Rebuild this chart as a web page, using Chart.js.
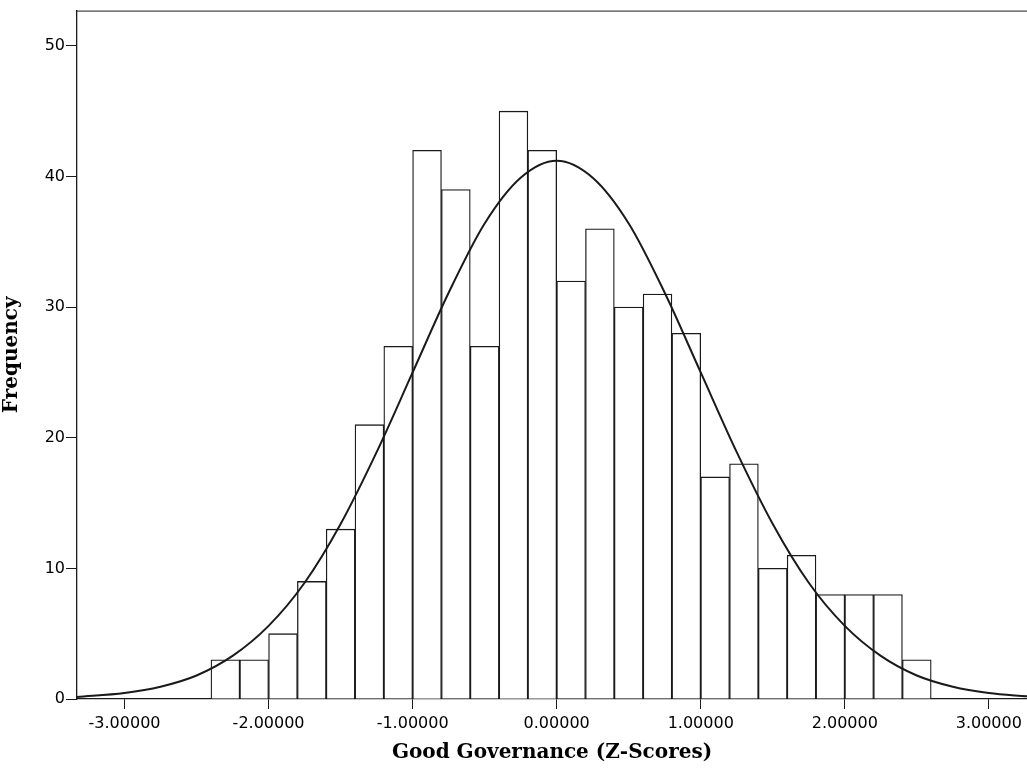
<!DOCTYPE html>
<html>
<head>
<meta charset="utf-8">
<script src="https://cdn.jsdelivr.net/npm/chart.js@4"></script>
<style>
  html, body { margin: 0; padding: 0; background: #fff; }
  #wrap { width: 1027px; height: 769px; }
</style>
</head>
<body>
<div id="wrap"><canvas id="hist"></canvas></div>
<script>
// histogram bins (bin centres, width 0.2) and counts
const binCenters = [-2.3, -2.1, -1.9, -1.7, -1.5, -1.3, -1.1, -0.9, -0.7, -0.5, -0.3, -0.1,
    0.1, 0.3, 0.5, 0.7, 0.9, 1.1, 1.3, 1.5, 1.7, 1.9, 2.1, 2.3, 2.5];
const counts = [3, 3, 5, 9, 13, 21, 27, 42, 39, 27, 45, 42,
    32, 36, 30, 31, 28, 17, 18, 10, 11, 8, 8, 8, 3];

// normal curve
const curveX = [-3.33, -3.0, -2.75, -2.5, -2.25, -2.0, -1.75, -1.5, -1.25, -1.0, -0.75, -0.5, -0.25, 0,
    0.25, 0.5, 0.75, 1.0, 1.25, 1.5, 1.75, 2.0, 2.25, 2.5, 2.75, 3.0, 3.27];
const curveY = [0.16, 0.46, 0.94, 1.8, 3.3, 5.6, 8.9, 13.4, 18.9, 25.0, 31.1, 36.4, 39.9, 41.2,
    39.9, 36.4, 31.1, 25.0, 18.9, 13.4, 8.9, 5.6, 3.3, 1.8, 0.94, 0.46, 0.2];

const xTicks = [-3, -2, -1, 0, 1, 2, 3];
const yTicks = [0, 10, 20, 30, 40, 50];

const ink = '#1a1a1a';
const tickFont = { family: 'DejaVu Sans', size: 16 };
const titleFont = { family: 'DejaVu Serif', size: 20, weight: 'bold' };

// top edge of the plot frame
const framePlugin = {
    id: 'frame',
    afterDraw(chart) {
        const { ctx, chartArea: a } = chart;
        ctx.save();
        ctx.strokeStyle = ink;
        ctx.lineWidth = 1;
        ctx.beginPath();
        ctx.moveTo(a.left, a.top + 0.5);
        ctx.lineTo(a.right, a.top + 0.5);
        ctx.stroke();
        ctx.restore();
    }
};

let ctx = document.getElementById('hist').getContext('2d');
// eslint-disable-next-line no-undef
new Chart(ctx, {
    data: {
        datasets: [{
            type: 'line',
            data: curveX.map((x, i) => ({ x: x, y: curveY[i] })),
            borderColor: ink,
            borderWidth: 2,
            pointRadius: 0,
            cubicInterpolationMode: 'monotone',
            order: 1
        }, {
            type: 'bar',
            data: binCenters.map((x, i) => ({ x: x, y: counts[i] })),
            backgroundColor: '#fff',
            borderColor: ink,
            borderWidth: 1.3,
            barPercentage: 1,
            categoryPercentage: 1,
            order: 2
        }]
    },
    options: {
        responsive: true,
        maintainAspectRatio: false,
        animation: false,
        layout: { padding: { top: 9, right: 0, left: 0, bottom: 0 } },
        plugins: {
            legend: { display: false },
            tooltip: { enabled: false }
        },
        scales: {
            x: {
                type: 'linear',
                min: -3.33,
                max: 3.265,
                offset: false,
                afterFit: s => { s.height = 70; },
                afterBuildTicks: s => { s.ticks = xTicks.map(v => ({ value: v })); },
                border: { display: true, color: ink, width: 1.3 },
                grid: { offset: false, drawOnChartArea: false, drawTicks: true, tickLength: 10, color: ink },
                ticks: {
                    font: tickFont,
                    color: '#000',
                    padding: 5,
                    maxRotation: 0,
                    callback: v => v.toFixed(5)
                },
                title: {
                    display: true,
                    text: 'Good Governance (Z-Scores)',
                    font: titleFont,
                    color: '#000',
                    padding: { top: 8 }
                }
            },
            y: {
                min: 0,
                max: 52.7,
                afterFit: s => { s.width = 77; },
                afterBuildTicks: s => { s.ticks = yTicks.map(v => ({ value: v })); },
                border: { display: true, color: ink, width: 1.3 },
                grid: { drawOnChartArea: false, drawTicks: true, tickLength: 11, color: ink },
                ticks: { font: tickFont, color: '#000', padding: 1 },
                title: {
                    display: true,
                    text: 'Frequency',
                    font: titleFont,
                    color: '#000',
                    padding: 0
                }
            }
        }
    },
    plugins: [framePlugin]
});
</script>
</body>
</html>
